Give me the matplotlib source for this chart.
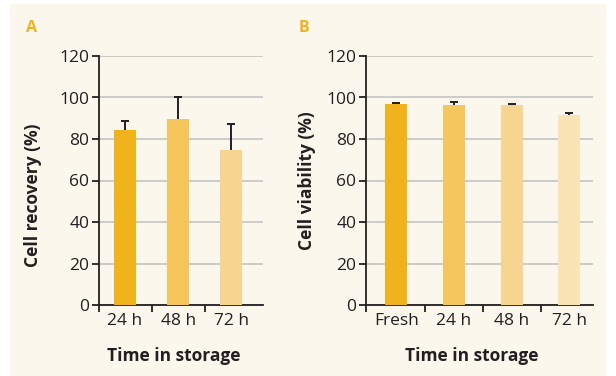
import matplotlib
matplotlib.use("Agg")
import matplotlib.pyplot as plt
from matplotlib.patches import Rectangle
import numpy as np

plt.rcParams['font.family'] = ['Open Sans', 'DejaVu Sans']

# Data
cats_a = ["24 h", "48 h", "72 h"]
recovery = [84.3, 89.6, 74.7]
recovery_err = [4.5, 10.6, 12.7]

cats_b = ["Fresh", "24 h", "48 h", "72 h"]
viability = [96.7, 96.2, 96.2, 91.4]
viability_err = [0.5, 1.5, 0.6, 1.3]

colors_a = ["#F0B31E", "#F5C55C", "#F7D590"]
colors_b = ["#F0B31E", "#F5C65E", "#F7D590", "#FAE3B5"]

W, H = 616, 376
fig = plt.figure(figsize=(W/100, H/100), dpi=100)
fig.patch.set_facecolor("white")
fig.patches.append(Rectangle((10/W, 0), 596/W, 372/H, transform=fig.transFigure,
                             facecolor="#FBF7EC", edgecolor="none", zorder=-10))

def px_axes(x0, y0, x1, y1):
    return fig.add_axes([x0/W, 1 - y1/H, (x1-x0)/W, (y1-y0)/H])

text_c = "#231F20"
grid_c = "#C8C8C8"
TICK_FS = 12.5
LAB_FS = 12.5

def style(ax, n, xlim, width, vals, errs, cols, cats):
    ax.set_facecolor("none")
    x = np.arange(n)
    ax.bar(x, vals, width=width, color=cols, zorder=3)
    ax.errorbar(x, vals, yerr=errs, fmt="none", ecolor="#231F20",
                elinewidth=1.4, capsize=3, capthick=1.4, zorder=2)
    ax.set_xlim(*xlim)
    ax.set_ylim(0, 120)
    ax.set_yticks(range(0, 121, 20))
    ax.yaxis.grid(True, color=grid_c, linewidth=1.3, zorder=0)
    ax.set_axisbelow(True)
    for s in ["top", "right"]:
        ax.spines[s].set_visible(False)
    for s in ["left", "bottom"]:
        ax.spines[s].set_color(text_c)
        ax.spines[s].set_linewidth(1.3)
    ax.set_xticks(x)
    ax.set_xticklabels(cats)
    ax.tick_params(axis="x", length=0, pad=6, labelsize=TICK_FS, labelcolor=text_c)
    ax.set_xticks([xlim[0]] + list(np.arange(n-1) + 0.5), minor=True)
    ax.tick_params(axis="x", which="minor", length=5, width=1.3, color=text_c)
    ax.tick_params(axis="y", length=5, width=1.3, color=text_c, pad=2,
                   labelsize=TICK_FS, labelcolor=text_c)

axA = px_axes(99, 56, 263, 305)
style(axA, 3, (-0.49, 2.6), 0.415, recovery, recovery_err, colors_a, cats_a)
axB = px_axes(366, 56, 593, 305)
style(axB, 4, (-0.525, 3.41), 0.38, viability, viability_err, colors_b, cats_b)

fig.text(31/W, 1 - 28/H, "A", color="#F0B31E", fontsize=11.5, fontweight="bold",
         ha="center", va="center")
fig.text(304/W, 1 - 28/H, "B", color="#F0B31E", fontsize=11.5, fontweight="bold",
         ha="center", va="center")

fig.text(33/W, 1 - 195/H, "Cell recovery (%)", rotation=90, fontsize=LAB_FS,
         fontweight="bold", color=text_c, ha="center", va="center")
fig.text(307/W, 1 - 181/H, "Cell viability (%)", rotation=90, fontsize=LAB_FS,
         fontweight="bold", color=text_c, ha="center", va="center")
fig.text(174/W, 1 - 356/H, "Time in storage", fontsize=LAB_FS, fontweight="bold",
         color=text_c, ha="center", va="center")
fig.text(472/W, 1 - 356/H, "Time in storage", fontsize=LAB_FS, fontweight="bold",
         color=text_c, ha="center", va="center")

fig.savefig("out.png", dpi=100, facecolor=fig.get_facecolor())
